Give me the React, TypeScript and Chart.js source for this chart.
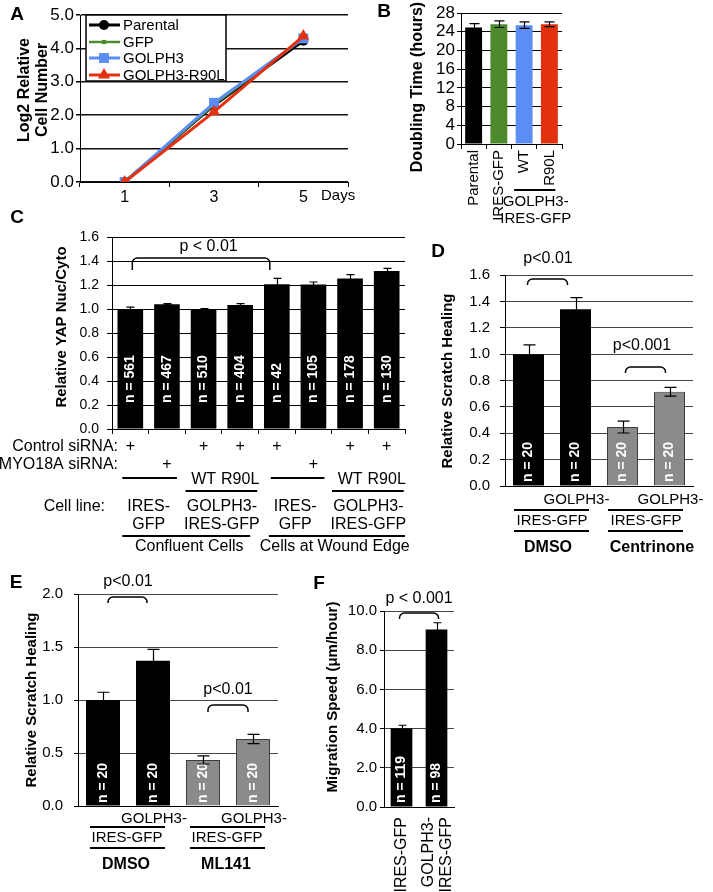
import React, { useEffect, useRef } from 'react';
import { Chart, registerables } from 'chart.js';

Chart.register(...registerables);

const FONT = "'Liberation Sans', Arial, Helvetica, sans-serif";
const f = (size: number, bold = false) => `${bold ? 'bold ' : ''}${size}px ${FONT}`;

const BLACK = '#000000';
const GREEN = '#4c8a2c';
const BLUE = '#5b8df4';
const RED = '#e3300e';
const GRAY = '#8b8b8b';
const GRAY_EDGE = '#3c3c3c';

// ---------------- data ----------------
// Panel A
const A_DAYS = ['1', '3', '5'];
const A_SERIES = ['Parental', 'GFP', 'GOLPH3', 'GOLPH3-R90L'];
const A_PARENTAL = [0, 2.3, 4.23];
const A_GFP = [0, 2.32, 4.3];
const A_GOLPH3 = [0, 2.37, 4.3];
const A_R90L = [0, 2.1, 4.37];
const A_Y_TICKS = [0, 1, 2, 3, 4, 5];

// Panel B
const B_LABELS = ['Parental', 'IRES-GFP', 'WT', 'R90L'];
const B_VALUES = [24.9, 25.6, 25.4, 25.6];
const B_ERRORS = [0.85, 0.7, 0.7, 0.5];
const B_Y_TICKS = [0, 4, 8, 12, 16, 20, 24, 28];

// Panel C
const C_LABELS = [
  'Confluent IRES-GFP control', 'Confluent IRES-GFP MYO18A', 'Confluent GOLPH3 WT', 'Confluent GOLPH3 R90L',
  'Wound IRES-GFP control', 'Wound IRES-GFP MYO18A', 'Wound GOLPH3 WT', 'Wound GOLPH3 R90L',
];
const C_VALUES = [1.0, 1.04, 1.0, 1.033, 1.207, 1.205, 1.255, 1.317];
const C_ERRORS = [0.016, 0.006, 0.004, 0.012, 0.048, 0.02, 0.032, 0.022];
const C_N = [561, 467, 510, 404, 42, 105, 178, 130];
const C_CONTROL_SIRNA = [true, false, true, true, true, false, true, true];
const C_MYO18A_SIRNA = [false, true, false, false, false, true, false, false];
const C_VARIANT = ['', '', 'WT', 'R90L', '', '', 'WT', 'R90L'];
const C_Y_TICKS = [0, 0.2, 0.4, 0.6, 0.8, 1.0, 1.2, 1.4, 1.6];

// Panel D
const D_LABELS = ['DMSO IRES-GFP', 'DMSO GOLPH3-IRES-GFP', 'Centrinone IRES-GFP', 'Centrinone GOLPH3-IRES-GFP'];
const D_VALUES = [1.0, 1.34, 0.447, 0.715];
const D_ERRORS = [0.07, 0.088, 0.045, 0.033];
const D_N = [20, 20, 20, 20];
const D_Y_TICKS = [0, 0.2, 0.4, 0.6, 0.8, 1.0, 1.2, 1.4, 1.6];

// Panel E
const E_LABELS = ['DMSO IRES-GFP', 'DMSO GOLPH3-IRES-GFP', 'ML141 IRES-GFP', 'ML141 GOLPH3-IRES-GFP'];
const E_VALUES = [1.0, 1.371, 0.434, 0.632];
const E_ERRORS = [0.073, 0.107, 0.038, 0.044];
const E_N = [20, 20, 20, 20];
const E_Y_TICKS = [0, 0.5, 1.0, 1.5, 2.0];

// Panel F
const F_LABELS = ['IRES-GFP', 'GOLPH3-IRES-GFP'];
const F_VALUES = [4.02, 9.05];
const F_ERRORS = [0.15, 0.35];
const F_N = [119, 98];
const F_Y_TICKS = [0, 2, 4, 6, 8, 10];

// ---------------- layout ----------------
type Box = { x: number; y: number; w: number; h: number };
type Area = { l: number; t: number; r: number; b: number };

const A_BOX: Box = { x: 0, y: 0, w: 365, h: 212 };
const A_AREA: Area = { l: 80, t: 15, r: 348, b: 182 };
const B_BOX: Box = { x: 365, y: 0, w: 215, h: 235 };
const B_AREA: Area = { l: 461, t: 13, r: 562, b: 144 };
const C_BOX: Box = { x: 0, y: 205, w: 420, h: 355 };
const C_AREA: Area = { l: 112, t: 237, r: 405, b: 429 };
const D_BOX: Box = { x: 420, y: 240, w: 293, h: 320 };
const D_AREA: Area = { l: 505, t: 275, r: 693, b: 486 };
const E_BOX: Box = { x: 0, y: 570, w: 300, h: 322 };
const E_AREA: Area = { l: 78, t: 594, r: 278, b: 806 };
const F_BOX: Box = { x: 300, y: 570, w: 170, h: 322 };
const F_AREA: Area = { l: 384, t: 611, r: 454, b: 807 };

function padding(box: Box, area: Area, yw: number, xh: number) {
  return {
    left: area.l - box.x - yw,
    top: area.t - box.y,
    right: box.x + box.w - area.r,
    bottom: box.y + box.h - area.b - xh,
  };
}

// ---------------- drawing helpers ----------------
function text(ctx: any, s: string, x: number, y: number, font: string, align = 'center', color = BLACK) {
  ctx.save();
  ctx.font = font;
  ctx.fillStyle = color;
  ctx.textAlign = align;
  ctx.textBaseline = 'middle';
  ctx.fillText(s, x, y);
  ctx.restore();
}
function vtext(ctx: any, s: string, x: number, y: number, font: string, align = 'center', color = BLACK) {
  ctx.save();
  ctx.translate(x, y);
  ctx.rotate(-Math.PI / 2);
  ctx.font = font;
  ctx.fillStyle = color;
  ctx.textAlign = align;
  ctx.textBaseline = 'middle';
  ctx.fillText(s, 0, 0);
  ctx.restore();
}
function hline(ctx: any, x1: number, x2: number, y: number, w = 2) {
  ctx.save();
  ctx.strokeStyle = BLACK;
  ctx.lineWidth = w;
  ctx.beginPath();
  ctx.moveTo(x1, y);
  ctx.lineTo(x2, y);
  ctx.stroke();
  ctx.restore();
}
function bracket(ctx: any, x1: number, x2: number, yTop: number, yEnd: number, r = 5) {
  ctx.save();
  ctx.strokeStyle = BLACK;
  ctx.lineWidth = 1.5;
  ctx.beginPath();
  ctx.moveTo(x1, yEnd);
  ctx.arcTo(x1, yTop, x1 + r, yTop, r);
  ctx.lineTo(x2 - r, yTop);
  ctx.arcTo(x2, yTop, x2, yTop + r, r);
  ctx.lineTo(x2, yEnd);
  ctx.stroke();
  ctx.restore();
}
function marker(ctx: any, style: string, x: number, y: number, r: number, color: string) {
  ctx.save();
  ctx.fillStyle = color;
  ctx.beginPath();
  if (style === 'circle') {
    ctx.arc(x, y, r, 0, Math.PI * 2);
  } else if (style === 'rect') {
    const s = r * Math.SQRT1_2;
    ctx.rect(x - s, y - s, 2 * s, 2 * s);
  } else if (style === 'triangle') {
    ctx.moveTo(x, y - r);
    ctx.lineTo(x + r * 0.866, y + r * 0.5);
    ctx.lineTo(x - r * 0.866, y + r * 0.5);
    ctx.closePath();
  }
  ctx.fill();
  ctx.restore();
}

// ---------------- axes ----------------
function yAxis(ticks: number[], digits: number, size: number, tickLen: number, pad: number, yw: number, gridColor: string, gridWidth = 1) {
  return {
    type: 'linear',
    min: ticks[0],
    max: ticks[ticks.length - 1],
    afterBuildTicks: (s: any) => {
      s.ticks = ticks.map((v) => ({ value: v }));
    },
    afterFit: (s: any) => {
      s.width = yw;
    },
    ticks: {
      color: BLACK,
      autoSkip: false,
      font: { family: FONT, size },
      padding: pad,
      callback: (v: any) => Number(v).toFixed(digits),
    },
    grid: { color: gridColor, lineWidth: gridWidth, drawTicks: true, tickLength: tickLen, tickColor: BLACK },
    border: { display: true, color: BLACK, width: 1 },
  };
}
function xAxis(xh: number, tickMarks: boolean) {
  return {
    type: 'category',
    offset: true,
    afterFit: (s: any) => {
      s.height = xh;
    },
    ticks: { display: false, autoSkip: false },
    grid: { display: tickMarks, drawOnChartArea: false, drawTicks: true, tickLength: 5, color: BLACK, offset: true },
    border: { display: true, color: BLACK, width: 1 },
  };
}

function errorBars(errors: number[], cap: number) {
  return {
    id: 'errorBars',
    afterDatasetsDraw(chart: any) {
      const ctx = chart.ctx;
      const meta = chart.getDatasetMeta(0);
      const ys = chart.scales.y;
      const vals = chart.data.datasets[0].data;
      ctx.save();
      ctx.strokeStyle = BLACK;
      ctx.lineWidth = 1.2;
      meta.data.forEach((bar: any, i: number) => {
        const x = Math.round(bar.x) + 0.5;
        const hi = ys.getPixelForValue(vals[i] + errors[i]);
        const lo = ys.getPixelForValue(vals[i] - errors[i]);
        ctx.beginPath();
        ctx.moveTo(x, lo);
        ctx.lineTo(x, hi);
        ctx.moveTo(x - cap, hi);
        ctx.lineTo(x + cap, hi);
        ctx.moveTo(x - cap, lo);
        ctx.lineTo(x + cap, lo);
        ctx.stroke();
      });
      ctx.restore();
    },
  };
}
function nLabels(ns: number[], offset: number) {
  return {
    id: 'nLabels',
    afterDatasetsDraw(chart: any) {
      const meta = chart.getDatasetMeta(0);
      const base = chart.chartArea.bottom;
      meta.data.forEach((bar: any, i: number) => {
        vtext(chart.ctx, `n = ${ns[i]}`, bar.x, base - offset, f(14, true), 'left', '#ffffff');
      });
    },
  };
}
function decor(box: Box, draw: (ctx: any, chart: any, P: (x: number, y: number) => [number, number]) => void) {
  return {
    id: 'decor',
    afterDraw(chart: any) {
      const P = (x: number, y: number): [number, number] => [x - box.x, y - box.y];
      draw(chart.ctx, chart, P);
    },
  };
}

function barConfig(o: any) {
  return {
    type: 'bar',
    data: {
      labels: o.labels,
      datasets: [
        {
          data: o.values,
          backgroundColor: o.colors,
          borderColor: o.edges,
          borderWidth: o.edgeWidths,
          categoryPercentage: 1,
          barPercentage: o.barPct,
        },
      ],
    },
    options: {
      responsive: false,
      animation: false,
      devicePixelRatio: 1,
      events: [],
      layout: { padding: padding(o.box, o.area, o.yw, o.xh) },
      plugins: { legend: { display: false }, tooltip: { enabled: false } },
      scales: {
        x: xAxis(o.xh, o.xTickMarks),
        y: yAxis(o.yTicks, o.digits, o.tickSize, o.tickLen, o.tickPad, o.yw, o.gridColor, o.gridWidth || 1),
      },
    },
    plugins: o.plugins,
  };
}

// ---------------- panel configs ----------------
const A_STYLES = [
  { data: A_PARENTAL, color: BLACK, style: 'circle', r: 5, w: 3, order: 4 },
  { data: A_GFP, color: GREEN, style: 'rect', r: 3, w: 2.5, order: 3 },
  { data: A_GOLPH3, color: BLUE, style: 'rect', r: 7, w: 3, order: 2 },
  { data: A_R90L, color: RED, style: 'triangle', r: 7, w: 3, order: 1 },
];

function configA() {
  const yw = 40;
  const xh = 22;
  return {
    type: 'line',
    data: {
      labels: A_DAYS,
      datasets: A_STYLES.map((s, i) => ({
        label: A_SERIES[i],
        data: s.data,
        borderColor: s.color,
        backgroundColor: s.color,
        pointBackgroundColor: s.color,
        pointBorderColor: s.color,
        pointStyle: s.style,
        pointRadius: s.r,
        pointBorderWidth: 0,
        borderWidth: s.w,
        tension: 0,
        order: s.order,
      })),
    },
    options: {
      responsive: false,
      animation: false,
      devicePixelRatio: 1,
      events: [],
      layout: { padding: padding(A_BOX, A_AREA, yw, xh) },
      plugins: { legend: { display: false }, tooltip: { enabled: false } },
      scales: {
        x: {
          type: 'category',
          offset: true,
          afterFit: (s: any) => {
            s.height = xh;
          },
          ticks: { color: BLACK, font: { family: FONT, size: 16 }, padding: 1, autoSkip: false },
          grid: { display: true, drawOnChartArea: false, drawTicks: true, tickLength: 5, color: BLACK, offset: true },
          border: { display: true, color: BLACK, width: 1 },
        },
        y: yAxis(A_Y_TICKS, 1, 17, 4, 2, yw, '#111111', 1.5),
      },
    },
    plugins: [
      decor(A_BOX, (ctx, chart, P) => {
        const ca = chart.chartArea;
        // legend
        const l = ca.left + 6;
        const t = ca.top;
        ctx.save();
        ctx.fillStyle = '#ffffff';
        ctx.fillRect(l, t, 140, 66);
        ctx.strokeStyle = BLACK;
        ctx.lineWidth = 1.5;
        ctx.strokeRect(l, t, 140, 66);
        ctx.restore();
        const rows = [10, 27, 43, 60];
        A_STYLES.forEach((s, i) => {
          const y = t + rows[i];
          ctx.save();
          ctx.strokeStyle = s.color;
          ctx.lineWidth = s.w;
          ctx.beginPath();
          ctx.moveTo(l + 3, y);
          ctx.lineTo(l + 34, y);
          ctx.stroke();
          ctx.restore();
          marker(ctx, s.style, l + 18, y, s.r, s.color);
          text(ctx, A_SERIES[i], l + 37, y + 1, f(15), 'left');
        });
        text(ctx, 'Days', ca.right - 27, ca.bottom + 14, f(15), 'left');
        const [tx1, ty] = P(25, 90);
        vtext(ctx, 'Log2 Relative', tx1, ty, f(16, true));
        const [tx2] = P(43, 90);
        vtext(ctx, 'Cell Number', tx2, ty, f(16, true));
        const [lx, ly] = P(17, 15);
        text(ctx, 'A', lx, ly, f(19, true));
      }),
    ],
  };
}

function configB() {
  return barConfig({
    box: B_BOX, area: B_AREA, yw: 40, xh: 10,
    labels: B_LABELS, values: B_VALUES,
    colors: [BLACK, GREEN, BLUE, RED], edges: [BLACK, GREEN, BLUE, RED], edgeWidths: [0, 0, 0, 0],
    barPct: 0.67, yTicks: B_Y_TICKS, digits: 0, tickSize: 17, tickLen: 4, tickPad: 2, gridColor: BLACK, xTickMarks: true,
    plugins: [
      errorBars(B_ERRORS, 5),
      decor(B_BOX, (ctx, chart, P) => {
        const ca = chart.chartArea;
        const xs = chart.scales.x;
        const c = (i: number) => xs.getPixelForValue(i);
        B_LABELS.forEach((lab, i) => vtext(ctx, lab, c(i), ca.bottom + 6, f(15), 'right'));
        hline(ctx, c(2) - 10, c(3) + 6, ca.bottom + 46, 2);
        const mid = (c(2) + c(3)) / 2 - 1;
        text(ctx, 'GOLPH3-', mid, ca.bottom + 58, f(15));
        text(ctx, 'IRES-GFP', mid, ca.bottom + 75, f(15));
        const [tx, ty] = P(418, 87);
        vtext(ctx, 'Doubling Time (hours)', tx, ty, f(16, true));
        const [lx, ly] = P(384, 12);
        text(ctx, 'B', lx, ly, f(19, true));
      }),
    ],
  });
}

function configC() {
  return barConfig({
    box: C_BOX, area: C_AREA, yw: 45, xh: 10,
    labels: C_LABELS, values: C_VALUES,
    colors: C_VALUES.map(() => BLACK), edges: C_VALUES.map(() => BLACK), edgeWidths: C_VALUES.map(() => 0),
    barPct: 0.7, yTicks: C_Y_TICKS, digits: 1, tickSize: 14, tickLen: 5, tickPad: 8, gridColor: BLACK, xTickMarks: true,
    plugins: [
      nLabels(C_N, 26),
      errorBars(C_ERRORS, 4),
      decor(C_BOX, (ctx, chart, P) => {
        const ca = chart.chartArea;
        const xs = chart.scales.x;
        const ys = chart.scales.y;
        const c = (i: number) => xs.getPixelForValue(i);
        const B = ca.bottom;
        bracket(ctx, c(0) + 2, c(4) - 7, ys.getPixelForValue(1.425), ys.getPixelForValue(1.325));
        text(ctx, 'p < 0.01', (c(0) + c(4)) / 2 + 5, ys.getPixelForValue(1.517), f(16));
        text(ctx, 'Control siRNA:', ca.left + 6, B + 18, f(16), 'right');
        text(ctx, 'MYO18A siRNA:', ca.left + 6, B + 36, f(16), 'right');
        C_CONTROL_SIRNA.forEach((on, i) => on && text(ctx, '+', c(i), B + 18, f(16)));
        C_MYO18A_SIRNA.forEach((on, i) => on && text(ctx, '+', c(i), B + 36, f(16)));
        C_VARIANT.forEach((v, i) => v && text(ctx, v, c(i), B + 51, f(16)));
        hline(ctx, c(0) - 8, c(1) + 10, B + 49);
        hline(ctx, c(4) - 6, c(5) + 11, B + 49);
        hline(ctx, c(2) - 18, c(3) + 17, B + 62);
        hline(ctx, c(6) - 18, c(7) + 17, B + 62);
        text(ctx, 'Cell line:', ca.left - 7, B + 78, f(16), 'right');
        const groups = [
          [0, 1, 'IRES-', 'GFP'],
          [2, 3, 'GOLPH3-', 'IRES-GFP'],
          [4, 5, 'IRES-', 'GFP'],
          [6, 7, 'GOLPH3-', 'IRES-GFP'],
        ] as any[];
        groups.forEach(([a, b, l1, l2]) => {
          const m = (c(a) + c(b)) / 2;
          text(ctx, l1, m, B + 78, f(16));
          text(ctx, l2, m, B + 96, f(16));
        });
        hline(ctx, c(0) - 8, c(3) + 10, B + 107);
        hline(ctx, c(4) - 8, ca.right, B + 107);
        text(ctx, 'Confluent Cells', (c(0) + c(3)) / 2 + 4, B + 118, f(16));
        text(ctx, 'Cells at Wound Edge', (c(4) + c(7)) / 2 + 3, B + 118, f(16));
        const [tx, ty] = P(62, 327);
        vtext(ctx, 'Relative YAP Nuc/Cyto', tx, ty, f(15, true));
        const [lx, ly] = P(17, 218);
        text(ctx, 'C', lx, ly, f(19, true));
      }),
    ],
  });
}

function groupLabels(ctx: any, c: (i: number) => number, B: number, a: number, b: number, name: string, nameDx: number) {
  const m = (c(a) + c(b)) / 2;
  text(ctx, 'GOLPH3-', c(b) + 1, B + 14, f(15));
  hline(ctx, m - 38, m + 37, B + 24);
  text(ctx, 'IRES-GFP', m, B + 35, f(15));
  hline(ctx, m - 38, m + 37, B + 45);
  text(ctx, name, m + nameDx, B + 62, f(16, true));
}

function configD() {
  return barConfig({
    box: D_BOX, area: D_AREA, yw: 45, xh: 10,
    labels: D_LABELS, values: D_VALUES,
    colors: [BLACK, BLACK, GRAY, GRAY], edges: [BLACK, BLACK, GRAY_EDGE, GRAY_EDGE], edgeWidths: [0, 0, 1, 1],
    barPct: 0.66, yTicks: D_Y_TICKS, digits: 1, tickSize: 15, tickLen: 5, tickPad: 10, gridColor: '#444444', xTickMarks: false,
    plugins: [
      nLabels(D_N, 4),
      errorBars(D_ERRORS, 6),
      decor(D_BOX, (ctx, chart, P) => {
        const ca = chart.chartArea;
        const xs = chart.scales.x;
        const ys = chart.scales.y;
        const c = (i: number) => xs.getPixelForValue(i);
        bracket(ctx, c(0) - 1, c(1) - 8, ys.getPixelForValue(1.569), ys.getPixelForValue(1.524));
        text(ctx, 'p<0.01', (c(0) + c(1)) / 2 - 4, ys.getPixelForValue(1.721), f(16));
        bracket(ctx, c(2) + 3, c(3) - 4, ys.getPixelForValue(0.902), ys.getPixelForValue(0.857));
        text(ctx, 'p<0.001', (c(2) + c(3)) / 2 - 4, ys.getPixelForValue(1.061), f(16));
        groupLabels(ctx, c, ca.bottom, 0, 1, 'DMSO', -4);
        groupLabels(ctx, c, ca.bottom, 2, 3, 'Centrinone', 6);
        const [tx, ty] = P(448, 381);
        vtext(ctx, 'Relative Scratch Healing', tx, ty, f(15, true));
        const [lx, ly] = P(438, 252);
        text(ctx, 'D', lx, ly, f(19, true));
      }),
    ],
  });
}

function configE() {
  return barConfig({
    box: E_BOX, area: E_AREA, yw: 45, xh: 10,
    labels: E_LABELS, values: E_VALUES,
    colors: [BLACK, BLACK, GRAY, GRAY], edges: [BLACK, BLACK, GRAY_EDGE, GRAY_EDGE], edgeWidths: [0, 0, 1, 1],
    barPct: 0.68, yTicks: E_Y_TICKS, digits: 1, tickSize: 15, tickLen: 4, tickPad: 11, gridColor: '#444444', xTickMarks: false,
    plugins: [
      nLabels(E_N, 3),
      errorBars(E_ERRORS, 6),
      decor(E_BOX, (ctx, chart, P) => {
        const ca = chart.chartArea;
        const xs = chart.scales.x;
        const ys = chart.scales.y;
        const c = (i: number) => xs.getPixelForValue(i);
        bracket(ctx, c(0) + 5, c(1) - 6, ys.getPixelForValue(1.972), ys.getPixelForValue(1.915));
        text(ctx, 'p<0.01', (c(0) + c(1)) / 2, ys.getPixelForValue(2.113), f(16));
        bracket(ctx, c(2) + 5, c(3) - 5, ys.getPixelForValue(0.953), ys.getPixelForValue(0.887));
        text(ctx, 'p<0.01', (c(2) + c(3)) / 2, ys.getPixelForValue(1.094), f(16));
        const B = ca.bottom;
        [[0, 1, 'DMSO'], [2, 3, 'ML141']].forEach(([a, b, name]: any) => {
          const m = (c(a) + c(b)) / 2;
          text(ctx, 'GOLPH3-', c(b) + 1, B + 13, f(15));
          hline(ctx, m - 38, m + 37, B + 21);
          text(ctx, 'IRES-GFP', m - 1, B + 32, f(15));
          hline(ctx, m - 38, m + 37, B + 42);
          text(ctx, name, m - 2, B + 59, f(16, true));
        });
        const [tx, ty] = P(32, 700);
        vtext(ctx, 'Relative Scratch Healing', tx, ty, f(15, true));
        const [lx, ly] = P(16, 583);
        text(ctx, 'E', lx, ly, f(19, true));
      }),
    ],
  });
}

function configF() {
  return barConfig({
    box: F_BOX, area: F_AREA, yw: 45, xh: 10,
    labels: F_LABELS, values: F_VALUES,
    colors: [BLACK, BLACK], edges: [BLACK, BLACK], edgeWidths: [0, 0],
    barPct: 0.62, yTicks: F_Y_TICKS, digits: 1, tickSize: 15, tickLen: 4, tickPad: 3, gridColor: '#444444', xTickMarks: false,
    plugins: [
      nLabels(F_N, 4),
      errorBars(F_ERRORS, 4),
      decor(F_BOX, (ctx, chart, P) => {
        const ca = chart.chartArea;
        const xs = chart.scales.x;
        const ys = chart.scales.y;
        const c = (i: number) => xs.getPixelForValue(i);
        bracket(ctx, c(0) - 2, c(1) + 2, ys.getPixelForValue(9.9), ys.getPixelForValue(9.59));
        text(ctx, 'p < 0.001', (c(0) + c(1)) / 2, ys.getPixelForValue(10.61), f(16));
        vtext(ctx, 'IRES-GFP', c(0), ca.bottom + 10, f(16), 'right');
        vtext(ctx, 'GOLPH3-', c(1) - 8, ca.bottom + 10, f(16), 'right');
        vtext(ctx, 'IRES-GFP', c(1) + 10, ca.bottom + 10, f(16), 'right');
        const [tx, ty] = P(333, 697);
        vtext(ctx, 'Migration Speed (\u03bcm/hour)', tx, ty, f(15, true));
        const [lx, ly] = P(319, 584);
        text(ctx, 'F', lx, ly, f(19, true));
      }),
    ],
  });
}

// ---------------- components ----------------
function ChartPanel({ box, build }: { box: Box; build: () => any }) {
  const ref = useRef<HTMLCanvasElement | null>(null);
  useEffect(() => {
    if (!ref.current) return;
    const chart = new Chart(ref.current, build());
    return () => chart.destroy();
  }, []);
  return (
    <canvas
      ref={ref}
      width={box.w}
      height={box.h}
      style={{ position: 'absolute', left: box.x, top: box.y, width: box.w, height: box.h, display: 'block' }}
    />
  );
}

export default function App() {
  return (
    <div style={{ position: 'absolute', left: 0, top: 0, width: 713, height: 892, background: '#ffffff', overflow: 'hidden' }}>
      <ChartPanel box={A_BOX} build={configA} />
      <ChartPanel box={B_BOX} build={configB} />
      <ChartPanel box={C_BOX} build={configC} />
      <ChartPanel box={D_BOX} build={configD} />
      <ChartPanel box={E_BOX} build={configE} />
      <ChartPanel box={F_BOX} build={configF} />
    </div>
  );
}
